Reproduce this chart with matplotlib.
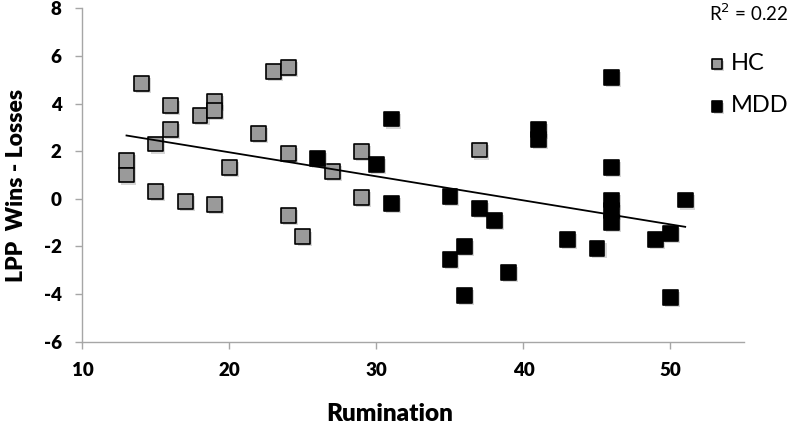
import matplotlib
matplotlib.use("Agg")
import matplotlib.pyplot as plt
import matplotlib.patheffects as pe
import numpy as np

plt.rcParams["font.family"] = ["Lato", "DejaVu Sans"]
plt.rcParams["axes.unicode_minus"] = False

# HC group (gray squares)
hc_x = [13, 13, 14, 15, 15, 16, 16, 17, 18, 19, 19, 19, 20, 22, 23, 24, 24, 24, 25, 27, 29, 29, 37]
hc_y = [1.6, 1.0, 4.85, 2.3, 0.3, 3.9, 2.9, -0.1, 3.5, 4.1, 3.7, -0.25, 1.3, 2.75, 5.35, 5.5, 1.9,
        -0.7, -1.6, 1.15, 2.0, 0.05, 2.05]

# MDD group (black squares)
mdd_x = [26, 30, 31, 31, 35, 35, 36, 36, 37, 38, 39, 41, 41, 43, 45, 46, 46, 46, 46, 46, 49, 50, 50, 51]
mdd_y = [1.7, 1.45, 3.35, -0.2, 0.1, -2.55, -2.0, -4.05, -0.4, -0.9, -3.1, 2.9, 2.5, -1.7, -2.1,
         5.1, 1.3, -0.05, -0.5, -1.0, -1.7, -1.45, -4.15, -0.05]

r_squared = 0.22

fig = plt.figure(figsize=(8, 4.26), dpi=100)
ax = fig.add_axes([0.103, 0.198, 0.827, 0.7825])

shadow = [pe.SimplePatchShadow(offset=(1.5, -1.5), shadow_rgbFace="0.6", alpha=0.4), pe.Normal()]

ax.scatter(hc_x, hc_y, marker="s", s=115, facecolor="#9a9a9a", edgecolor="black",
           linewidth=1.2, zorder=3, path_effects=shadow, label="HC")
ax.scatter(mdd_x, mdd_y, marker="s", s=115, facecolor="black", edgecolor="black",
           linewidth=1.2, zorder=3, path_effects=shadow, label="MDD")

# linear trend over all subjects
all_x = np.array(hc_x + mdd_x, dtype=float)
all_y = np.array(hc_y + mdd_y, dtype=float)
slope, intercept = np.polyfit(all_x, all_y, 1)
xs = np.array([all_x.min(), all_x.max()])
ax.plot(xs, slope * xs + intercept, color="black", linewidth=1.3, zorder=4)

ax.set_xlim(10, 55)
ax.set_ylim(-6, 8)
ax.set_xticks([10, 20, 30, 40, 50])
ax.set_yticks([-6, -4, -2, 0, 2, 4, 6, 8])

for side in ["top", "right"]:
    ax.spines[side].set_visible(False)
for side in ["left", "bottom"]:
    ax.spines[side].set_color("#a6a6a6")
    ax.spines[side].set_linewidth(1.0)
ax.tick_params(axis="both", colors="#a6a6a6", length=5, width=1.0, direction="out",
               labelcolor="black", labelsize=13.5, pad=10)
for lbl in ax.get_xticklabels() + ax.get_yticklabels():
    lbl.set_fontweight("heavy")

ax.set_xlabel("Rumination", fontsize=17.5, fontweight="heavy")
ax.set_ylabel("LPP  Wins - Losses", fontsize=16.5, fontweight="heavy")
ax.xaxis.set_label_coords(0.465, -0.185)
ax.yaxis.set_label_coords(-0.083, 0.47)

fig.text(0.886, 0.968, f"R$^2$ = {r_squared:.2f}", fontsize=13.5, ha="left", va="center")

ax.legend(loc="upper left", bbox_to_anchor=(0.883, 0.875), bbox_transform=fig.transFigure,
          frameon=False, fontsize=17, handletextpad=0.15, labelspacing=0.9, markerscale=0.7,
          handlelength=0.9, borderaxespad=0, borderpad=0)

fig.savefig("out.png", dpi=100)
